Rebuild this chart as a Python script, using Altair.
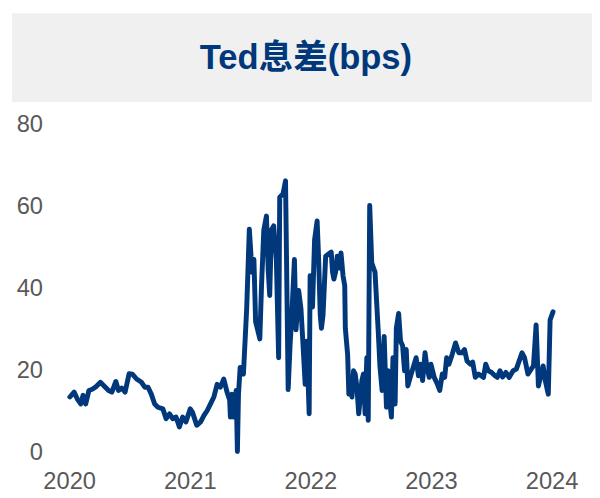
import altair as alt
import pandas as pd

TITLE = "Ted息差(bps)"

years = [
    2020.006, 2020.041, 2020.068, 2020.096, 2020.115, 2020.137, 2020.164, 2020.191, 2020.218, 2020.259,
    2020.300, 2020.327, 2020.354, 2020.387, 2020.409, 2020.436, 2020.464, 2020.497, 2020.524, 2020.559,
    2020.600, 2020.627, 2020.654, 2020.681, 2020.709, 2020.736, 2020.777, 2020.804, 2020.832, 2020.859,
    2020.886, 2020.914, 2020.941, 2020.968, 2021.004, 2021.022, 2021.058, 2021.090, 2021.118, 2021.145,
    2021.172, 2021.200, 2021.227, 2021.254, 2021.282, 2021.309, 2021.331, 2021.337, 2021.350, 2021.364,
    2021.385, 2021.395, 2021.404, 2021.418, 2021.431, 2021.445, 2021.472, 2021.494, 2021.508, 2021.521,
    2021.532, 2021.546, 2021.562, 2021.581, 2021.595, 2021.614, 2021.636, 2021.650, 2021.663, 2021.677,
    2021.696, 2021.718, 2021.737, 2021.746, 2021.773, 2021.794, 2021.800, 2021.816, 2021.832, 2021.845,
    2021.868, 2021.881, 2021.903, 2021.922, 2021.936, 2021.957, 2021.971, 2021.990, 2021.998, 2022.018,
    2022.035, 2022.056, 2022.068, 2022.082, 2022.092, 2022.105, 2022.127, 2022.154, 2022.173, 2022.184,
    2022.195, 2022.209, 2022.223, 2022.237, 2022.254, 2022.271, 2022.285, 2022.290, 2022.309, 2022.319,
    2022.331, 2022.345, 2022.358, 2022.372, 2022.386, 2022.401, 2022.427, 2022.440, 2022.454, 2022.468,
    2022.480, 2022.492, 2022.509, 2022.524, 2022.536, 2022.563, 2022.577, 2022.595, 2022.612, 2022.631,
    2022.645, 2022.658, 2022.672, 2022.685, 2022.703, 2022.713, 2022.732, 2022.748, 2022.765, 2022.781,
    2022.795, 2022.808, 2022.836, 2022.877, 2022.896, 2022.912, 2022.931, 2022.951, 2022.967, 2022.986,
    2023.000, 2023.027, 2023.054, 2023.073, 2023.094, 2023.114, 2023.130, 2023.149, 2023.176, 2023.204,
    2023.231, 2023.258, 2023.278, 2023.299, 2023.327, 2023.346, 2023.368, 2023.395, 2023.415, 2023.436,
    2023.454, 2023.476, 2023.503, 2023.531, 2023.550, 2023.572, 2023.594, 2023.621, 2023.648, 2023.681,
    2023.708, 2023.736, 2023.755, 2023.776, 2023.804, 2023.831, 2023.850, 2023.872, 2023.891, 2023.908,
    2023.930, 2023.948, 2023.973, 2023.988, 2024.012,
]

values = [
    13.5, 14.7, 13.0, 11.8, 13.9, 11.8, 15.1, 15.4, 15.9, 17.1,
    15.9, 15.1, 14.7, 17.3, 15.1, 15.7, 14.7, 19.2, 19.1, 17.9,
    17.1, 15.9, 15.9, 14.2, 11.8, 11.0, 10.6, 8.2, 9.4, 8.2,
    8.6, 6.2, 8.6, 7.4, 10.6, 9.8, 6.6, 7.4, 9.0, 10.2,
    11.8, 13.5, 16.6, 15.9, 17.9, 14.7, 12.7, 8.6, 14.2, 8.6,
    15.1, 0.2, 14.2, 20.7, 20.2, 19.1, 35.1, 54.5, 47.9, 43.9,
    47.1, 31.9, 30.0, 27.7, 40.7, 54.3, 57.7, 44.7, 38.3, 54.3,
    55.3, 47.1, 23.1, 62.3, 63.1, 66.3, 52.7, 15.3, 26.3, 32.7,
    47.1, 29.9, 39.5, 35.1, 27.9, 16.6, 27.1, 9.4, 43.1, 35.5,
    51.9, 56.5, 47.9, 33.5, 30.3, 33.5, 47.9, 48.5, 48.9, 44.0,
    42.3, 44.0, 47.9, 45.0, 48.7, 43.1, 40.7, 30.3, 23.9, 14.2,
    15.1, 13.5, 19.9, 19.1, 15.9, 9.4, 17.5, 19.1, 9.4, 23.1,
    7.8, 60.3, 46.3, 45.0, 44.0, 29.5, 21.0, 15.1, 28.3, 11.0,
    19.9, 12.7, 8.6, 23.1, 11.8, 30.3, 33.9, 27.1, 26.0, 19.9,
    25.1, 16.2, 19.1, 23.1, 18.7, 21.5, 17.5, 24.3, 20.7, 18.3,
    21.5, 18.3, 16.6, 15.1, 19.1, 18.3, 23.1, 21.5, 23.9, 26.7,
    24.3, 24.3, 25.1, 22.3, 21.5, 22.0, 18.3, 19.1, 18.7, 18.3,
    21.5, 19.9, 19.5, 18.7, 18.3, 19.9, 18.4, 19.5, 18.3, 19.9,
    20.3, 22.7, 24.3, 23.1, 19.1, 20.3, 21.1, 31.1, 16.2, 18.3,
    21.1, 17.5, 14.2, 32.3, 34.3,
]

x_ticks = [2020, 2021, 2022, 2023, 2024]
y_ticks = [0, 20, 40, 60, 80]

BLUE = "#00387B"
GRAY_TXT = "#595959"
BOX = "#F0F0F0"
FONT = "Liberation Sans, Noto Sans CJK SC, sans-serif"

df = pd.DataFrame({"year": years, "value": values})

W, H = 489, 332

box = alt.Chart(pd.DataFrame({"k": [0]})).mark_rect(color=BOX).encode(
    x=alt.value(-58), x2=alt.value(530), y=alt.value(-113), y2=alt.value(-23)
)

title = alt.Chart(pd.DataFrame({"t": [TITLE]})).mark_text(
    font=FONT, fontSize=35, fontWeight="bold", color=BLUE,
    align="center", baseline="middle",
).encode(text="t:N", x=alt.value(240), y=alt.value(-68))

line = alt.Chart(df).mark_line(
    color=BLUE, strokeWidth=5, strokeJoin="round", strokeCap="round"
).encode(
    x=alt.X("year:Q",
            scale=alt.Scale(domain=[2020, 2024], nice=False, zero=False),
            axis=alt.Axis(values=x_ticks, format="d", title=None, grid=False,
                          domain=False, ticks=False, tickSize=0,
                          labelFont=FONT, labelFontSize=24, labelColor=GRAY_TXT,
                          labelPadding=18, labelFlush=False)),
    y=alt.Y("value:Q",
            scale=alt.Scale(domain=[0, 80], nice=False),
            axis=alt.Axis(values=y_ticks, title=None, grid=False,
                          domain=False, ticks=False, tickSize=0,
                          labelFont=FONT, labelFontSize=24, labelColor=GRAY_TXT,
                          labelPadding=27, labelOffset=0)),
)

chart = alt.layer(box, title, line).properties(
    width=W, height=H,
    autosize=alt.AutoSizeParams(type="none"),
    padding={"left": 62, "top": 115, "right": 41, "bottom": 43},
).configure_view(stroke=None)

chart.save("out.html", embed_options={"renderer": "svg", "actions": False})
